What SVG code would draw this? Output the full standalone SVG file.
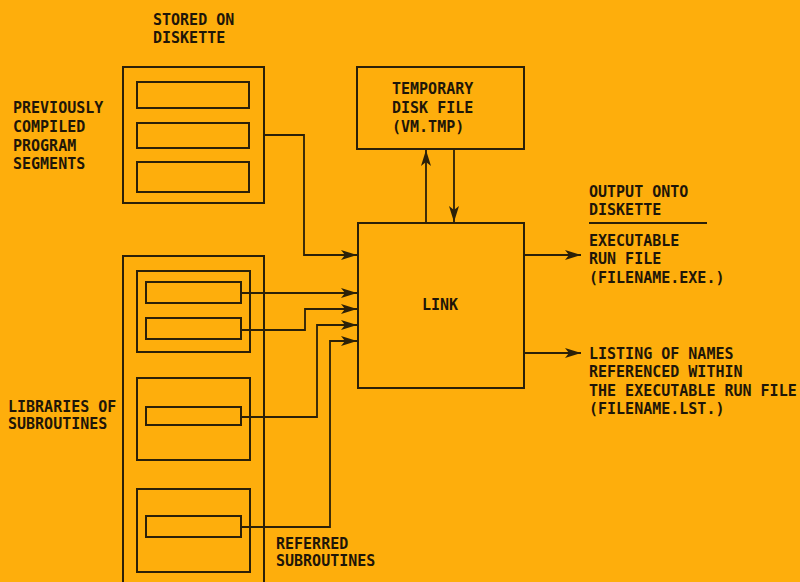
<svg xmlns="http://www.w3.org/2000/svg" width="800" height="582" viewBox="0 0 800 582">
<defs>
<marker id="ah" viewBox="0 0 16 10" refX="16" refY="5" markerWidth="16" markerHeight="10" markerUnits="userSpaceOnUse" orient="auto">
<path d="M0,0 L16,5 L0,10 L4,5 Z" fill="#2b2008"/>
</marker>
<style>
.b{fill:none;stroke:#2b2008;stroke-width:2}
.c{fill:none;stroke:#2b2008;stroke-width:1.8}
.a{marker-end:url(#ah)}
text{font-family:"DejaVu Sans Mono","Liberation Mono",monospace;font-size:15px;font-weight:bold;fill:#1e1608}
</style>
</defs>
<rect width="800" height="582" fill="#FEAE0C"/>
<text x="153" y="25">STORED ON</text>
<text x="153" y="43">DISKETTE</text>
<text x="13" y="113">PREVIOUSLY</text>
<text x="13" y="132">COMPILED</text>
<text x="13" y="151">PROGRAM</text>
<text x="13" y="169">SEGMENTS</text>
<text x="8" y="412">LIBRARIES OF</text>
<text x="8" y="429">SUBROUTINES</text>
<text x="276" y="549">REFERRED</text>
<text x="276" y="566">SUBROUTINES</text>
<text x="589" y="197">OUTPUT ONTO</text>
<text x="589" y="215">DISKETTE</text>
<line class="c" x1="589" y1="223" x2="707" y2="223"/>
<g id="segments">
<rect class="b" x="123" y="67" width="141" height="136"/>
<rect class="b" x="137" y="82" width="112" height="26"/>
<rect class="b" x="137" y="123" width="112" height="25"/>
<rect class="b" x="137" y="162" width="112" height="30"/>
</g>
<g id="libraries">
<path class="b" d="M123,590 V256 H264 V590"/>
<rect class="b" x="137" y="271" width="113" height="81"/>
<rect class="b" x="146" y="282" width="95" height="21"/>
<rect class="b" x="146" y="318" width="95" height="21"/>
<rect class="b" x="137" y="378" width="113" height="82"/>
<rect class="b" x="146" y="407" width="95" height="18"/>
<rect class="b" x="137" y="489" width="113" height="83"/>
<rect class="b" x="146" y="516" width="95" height="21"/>
</g>
<g id="temp">
<rect class="b" x="357" y="67" width="167" height="82"/>
<text x="392" y="94">TEMPORARY</text>
<text x="392" y="113">DISK FILE</text>
<text x="392" y="132">(VM.TMP)</text>
</g>
<g id="link">
<rect class="b" x="358" y="223" width="166" height="165"/>
<text x="440" y="310" text-anchor="middle">LINK</text>
</g>
<g id="exe">
<text x="589" y="246">EXECUTABLE</text>
<text x="589" y="264">RUN FILE</text>
<text x="589" y="283">(FILENAME.EXE.)</text>
</g>
<g id="lst">
<text x="589" y="359">LISTING OF NAMES</text>
<text x="589" y="377">REFERENCED WITHIN</text>
<text x="589" y="396">THE EXECUTABLE RUN FILE</text>
<text x="589" y="414">(FILENAME.LST.)</text>
</g>
<g id="connectors">
<path class="c a" d="M264,135 H304 V255 H357"/>
<path class="c a" d="M241,293 H357"/>
<path class="c a" d="M241,330 H305 V309 H357"/>
<path class="c a" d="M241,417 H317 V325 H357"/>
<path class="c a" d="M241,527 H330 V341 H357"/>
<path class="c a" d="M426,223 V150"/>
<path class="c a" d="M454,149 V222"/>
<path class="c a" d="M524,255 H581"/>
<path class="c a" d="M524,353 H581"/>
</g>
</svg>
